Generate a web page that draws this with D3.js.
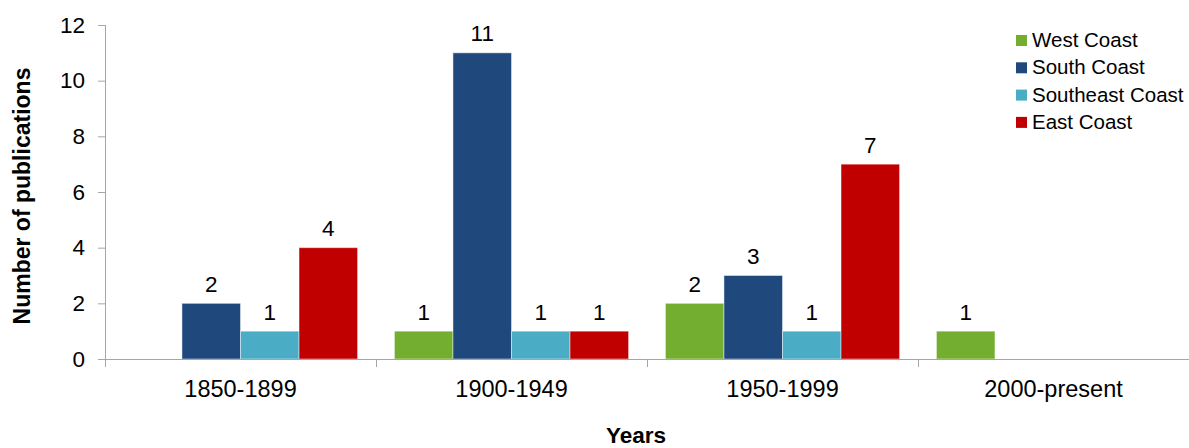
<!DOCTYPE html>
<html>
<head>
<meta charset="utf-8">
<script src="https://cdn.jsdelivr.net/npm/d3@7"></script>
<style>
  html, body { margin: 0; padding: 0; background: #fff; }
  svg { display: block; font-family: "Liberation Sans", Arial, sans-serif; }
</style>
</head>
<body>
<svg id="chart" width="1189" height="448"></svg>
<script>
// Publications per period, split by coastal region
const periods = ["1850-1899", "1900-1949", "1950-1999", "2000-present"];
const regions = ["West Coast", "South Coast", "Southeast Coast", "East Coast"];
const westCoast = [0, 1, 2, 1];
const southCoast = [2, 11, 3, 0];
const southeastCoast = [1, 1, 1, 0];
const eastCoast = [4, 1, 7, 0];
const yTicks = [0, 2, 4, 6, 8, 10, 12];
const colors = ["#74ae31", "#1f497d", "#4bacc6", "#c00000"];

const seriesValues = [westCoast, southCoast, southeastCoast, eastCoast];

const svg = d3.select("#chart");
const plot = { left: 105, right: 1189, top: 25, bottom: 359 };

const x = d3.scaleBand().domain(periods).range([plot.left, plot.right]).padding(0);
const bw = x.bandwidth();
const xInner = d3.scaleBand().domain(regions).range([bw * 0.068, bw * 0.932]).padding(0);
const y = d3.scaleLinear().domain([0, 12]).range([plot.bottom, plot.top]);

const axisColor = "#a6a6a6";

// Y axis
const yAxis = svg.append("g")
  .attr("transform", `translate(${plot.left},0)`)
  .call(d3.axisLeft(y).tickValues(yTicks).tickSize(7).tickPadding(13).tickFormat(d3.format("d")));
yAxis.select(".domain").attr("stroke", axisColor).attr("d", `M0.5,${plot.top}V${plot.bottom}`);
yAxis.selectAll(".tick line").attr("stroke", axisColor);
yAxis.selectAll(".tick text")
  .attr("fill", "#000").attr("font-size", "22.5px")
  .attr("font-family", "'Liberation Sans', Arial, sans-serif");

// Bars
const rows = periods.map((p, i) => ({ period: p, values: regions.map((r, j) => ({ region: r, idx: j, value: seriesValues[j][i] })) }));

const groups = svg.append("g").selectAll("g").data(rows).join("g")
  .attr("transform", d => `translate(${x(d.period)},0)`);

groups.selectAll("rect")
  .data(d => d.values.filter(v => v.value > 0))
  .join("rect")
  .attr("x", d => xInner(d.region))
  .attr("y", d => y(d.value))
  .attr("width", xInner.bandwidth())
  .attr("height", d => y(0) - y(d.value))
  .attr("fill", d => colors[d.idx])
  .attr("stroke", "rgba(255,255,255,0.45)")
  .attr("stroke-width", 1);

groups.selectAll("text.val")
  .data(d => d.values.filter(v => v.value > 0))
  .join("text")
  .attr("class", "val")
  .attr("x", d => xInner(d.region) + xInner.bandwidth() / 2)
  .attr("y", d => y(d.value) - 11.5)
  .attr("text-anchor", "middle")
  .attr("font-size", "22.5px")
  .attr("fill", "#000")
  .text(d => d.value);

// X axis
const xAxis = svg.append("g")
  .attr("transform", `translate(0,${plot.bottom})`)
  .call(d3.axisBottom(x).tickSize(0).tickPadding(21));
xAxis.select(".domain").attr("stroke", axisColor).attr("d", `M${plot.left},0.5H${plot.right}`);
xAxis.selectAll(".tick text")
  .attr("fill", "#000").attr("font-size", "23.5px")
  .attr("font-family", "'Liberation Sans', Arial, sans-serif");
// Category separators
xAxis.append("g").selectAll("line")
  .data(periods.map(p => x(p)).concat([plot.right]))
  .join("line")
  .attr("x1", d => Math.round(d) + 0.5).attr("x2", d => Math.round(d) + 0.5)
  .attr("y1", 0).attr("y2", 8)
  .attr("stroke", axisColor);

// Axis titles
svg.append("text")
  .attr("transform", `translate(30,196) rotate(-90)`)
  .attr("text-anchor", "middle")
  .attr("font-size", "23px")
  .attr("font-weight", "bold")
  .attr("fill", "#000")
  .text("Number of publications");

svg.append("text")
  .attr("x", 636)
  .attr("y", 443)
  .attr("text-anchor", "middle")
  .attr("font-size", "22.5px")
  .attr("font-weight", "bold")
  .attr("fill", "#000")
  .text("Years");

// Legend
const legend = svg.append("g").attr("transform", "translate(1016,0)");
const legendRows = legend.selectAll("g").data(regions).join("g")
  .attr("transform", (d, i) => `translate(0,${40 + i * 27.3})`);
legendRows.append("rect")
  .attr("x", 0).attr("y", -5).attr("width", 11).attr("height", 11)
  .attr("fill", (d, i) => colors[i]);
legendRows.append("text")
  .attr("x", 16).attr("y", 0)
  .attr("dy", "0.35em")
  .attr("font-size", "20.5px")
  .attr("fill", "#000")
  .text(d => d);
</script>
</body>
</html>
